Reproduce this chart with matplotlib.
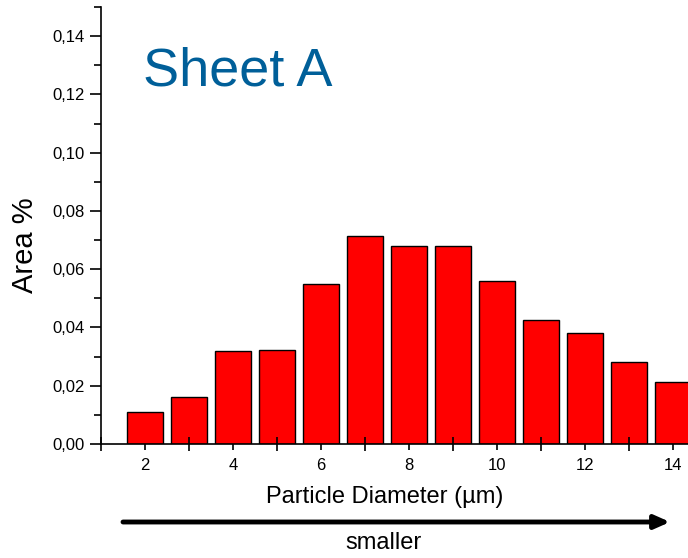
import matplotlib
matplotlib.use("Agg")
import matplotlib.pyplot as plt
from matplotlib.ticker import MultipleLocator, FuncFormatter

# data
diameters = [2, 3, 4, 5, 6, 7, 8, 9, 10, 11, 12, 13, 14]
area_pct = [0.0110, 0.0160, 0.0319, 0.0321, 0.0548, 0.0714, 0.0679,
            0.0679, 0.0559, 0.0424, 0.0380, 0.0281, 0.0214]

plt.rcParams['font.family'] = ['Liberation Sans', 'DejaVu Sans']

fig = plt.figure(figsize=(6.88, 5.58), dpi=100)
ax = fig.add_axes([101 / 688, 114 / 558, 587 / 688, 437 / 558])

ax.bar(diameters, area_pct, width=0.8, color='#ff0000',
       edgecolor='black', linewidth=1.0, zorder=1)

ax.set_xlim(1, 14.34)
ax.set_ylim(0, 0.15)

ax.xaxis.set_major_locator(MultipleLocator(2))
ax.xaxis.set_minor_locator(MultipleLocator(1))
ax.yaxis.set_major_locator(MultipleLocator(0.02))
ax.yaxis.set_minor_locator(MultipleLocator(0.01))
ax.yaxis.set_major_formatter(FuncFormatter(lambda v, p: f"{v:.2f}".replace('.', ',')))

ax.tick_params(axis='x', which='major', direction='out', length=4, width=1.2,
               labelsize=12, pad=6)
ax.tick_params(axis='x', which='minor', direction='inout', length=10, width=1.2)
ax.tick_params(axis='y', which='major', direction='out', length=8, width=1.2,
               labelsize=12, pad=4)
ax.tick_params(axis='y', which='minor', direction='out', length=5, width=1.2)

for s in ['top', 'right']:
    ax.spines[s].set_visible(False)
for s in ['left', 'bottom']:
    ax.spines[s].set_linewidth(1.2)

ax.set_xlabel('Particle Diameter (µm)', fontsize=17)
ax.xaxis.set_label_coords((385 - 101) / 587, -(497 - 444) / 437)
ax.xaxis.label.set_va('center')
ax.set_ylabel('Area %', fontsize=21)
ax.yaxis.set_label_coords(-(101 - 25) / 587, (444 - 245) / 437)
ax.yaxis.label.set_va('center')

ax.text(143 / 688, 1 - 72 / 558, 'Sheet A', transform=fig.transFigure,
        fontsize=39, color='#005f99', va='center', ha='left')

# arrow below the x axis
ax.annotate('', xy=(670 / 688, 1 - 522 / 558), xytext=(123 / 688, 1 - 522 / 558),
            xycoords='figure fraction', textcoords='figure fraction',
            arrowprops=dict(arrowstyle='-|>,head_length=0.9,head_width=0.4',
                            lw=3.5, color='black', shrinkA=0, shrinkB=0))
fig.text(383 / 688, 1 - 543 / 558, 'smaller', fontsize=17, ha='center', va='center')

fig.savefig('out.png', dpi=100)
